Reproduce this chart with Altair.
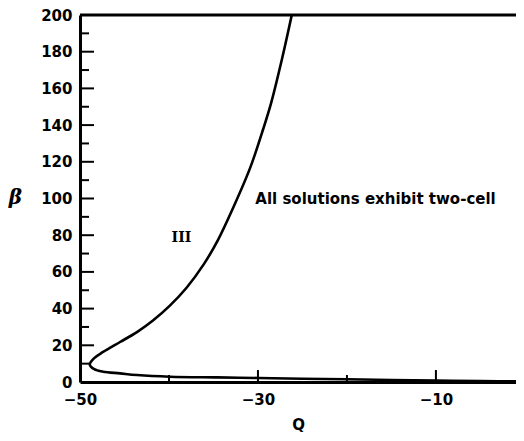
import altair as alt
import pandas as pd

# upper branch (Q, beta)
upper_Q = [-48.9, -48.4, -47.4, -45.5, -43.6, -41.8, -39.9, -38.0, -36.1, -34.5, -32.8, -30.9, -29.4, -28.5, -27.3, -26.2]
upper_B = [9.5, 13.0, 16.4, 21.8, 27.2, 33.5, 41.6, 51.5, 64.1, 77.3, 94.8, 116.4, 138, 152.4, 176, 200]
# lower branch (Q, beta)
lower_Q = [-48.9, -48.4, -47.4, -45.5, -43.6, -39.9, -34.6, -30.0, -25.0, -20.0, -15.0, -10.0, -5.0, 0.0]
lower_B = [9.5, 7.0, 5.6, 4.7, 3.8, 2.9, 2.5, 2.2, 1.8, 1.5, 1.1, 0.8, 0.5, 0.3]

x_labels = [-50, -30, -10]
x_major_ticks = [-30, -10]
x_minor_ticks = [-40, -20]
y_labels = [0, 20, 40, 60, 80, 100, 120, 140, 160, 180, 200]
y_major_ticks = [20, 40, 60, 80, 100, 120, 140, 160, 180]
y_minor_ticks = [10, 30, 50, 70, 90, 110, 130, 150, 170, 190]

notes = ["All solutions exhibit two-cell", "III"]
note_Q = [-30.3, -38.6]
note_B = [100, 78.5]

Qs = list(reversed(lower_Q)) + upper_Q[1:]
Bs = list(reversed(lower_B)) + upper_B[1:]
curve = pd.DataFrame({"Q": Qs, "beta": Bs, "i": list(range(len(Qs)))})

W, H = 436, 367
FONT = "DejaVu Sans"

xscale = alt.Scale(domain=[-50, -1], nice=False, zero=False)
yscale = alt.Scale(domain=[0, 200], nice=False)

xaxis = alt.Axis(
    values=x_labels, ticks=False, tickSize=0, domain=True, domainColor="black",
    domainWidth=3, grid=False, labelFlush=False, labelOverlap=False,
    labelFont=FONT, labelFontSize=15, labelFontWeight="bold", labelColor="black",
    labelPadding=10, title="Q", titleFont=FONT, titleFontSize=15,
    titleFontWeight="bold", titleColor="black", titleY=42, titleBaseline="middle")
yaxis = alt.Axis(
    values=y_labels, ticks=False, tickSize=0, domain=True, domainColor="black",
    domainWidth=3, grid=False, labelFlush=False, labelOverlap=False,
    labelFont=FONT, labelFontSize=15, labelFontWeight="bold", labelColor="black",
    labelPadding=8, title="β", titleAngle=0, titleX=-65, titleY=182,
    titleAlign="center", titleBaseline="middle", titleFont="DejaVu Serif",
    titleFontSize=20, titleFontWeight="bold", titleFontStyle="italic", titleColor="black")

X = lambda: alt.X("Q:Q", scale=xscale, axis=xaxis)
Y = lambda: alt.Y("beta:Q", scale=yscale, axis=yaxis)

line = alt.Chart(curve).mark_line(color="black", strokeWidth=2.6, clip=True,
                                  interpolate="catmull-rom").encode(
    x=X(), y=Y(), order="i:O")

def yrule(vals, x2):
    return alt.Chart(pd.DataFrame({"beta": vals})).mark_rule(color="black", strokeWidth=2).encode(
        y=Y(), x=alt.value(0), x2=alt.value(x2))

def xrule(vals, y2):
    return alt.Chart(pd.DataFrame({"Q": vals})).mark_rule(color="black", strokeWidth=2).encode(
        x=X(), y=alt.value(H), y2=alt.value(y2))

top = alt.Chart(pd.DataFrame({"beta": [200]})).mark_rule(color="black", strokeWidth=3).encode(
    y=Y(), x=alt.value(0), x2=alt.value(W))
ymaj = yrule(y_major_ticks, 14)
ymin = yrule(y_minor_ticks, 9)
xmaj = xrule(x_major_ticks, H - 12)
xmin = xrule(x_minor_ticks, H - 7)

note1 = alt.Chart(pd.DataFrame({"Q": note_Q[:1], "beta": note_B[:1], "t": notes[:1]})).mark_text(
    align="left", baseline="middle", font=FONT, fontSize=15, fontWeight="bold", color="black").encode(
    x=X(), y=Y(), text="t:N")
note2 = alt.Chart(pd.DataFrame({"Q": note_Q[1:], "beta": note_B[1:], "t": notes[1:]})).mark_text(
    align="center", baseline="middle", font="DejaVu Serif", fontSize=14, fontWeight="bold", color="black").encode(
    x=X(), y=Y(), text="t:N")

chart = alt.layer(line, top, ymaj, ymin, xmaj, xmin, note1, note2).properties(
    width=W, height=H,
    autosize=alt.AutoSizeParams(type="none"),
    padding={"left": 72, "top": 7, "right": 0, "bottom": 51},
    background="white",
).configure_view(stroke=None)

chart.save("out.html", embed_options={"renderer": "svg", "actions": False})
